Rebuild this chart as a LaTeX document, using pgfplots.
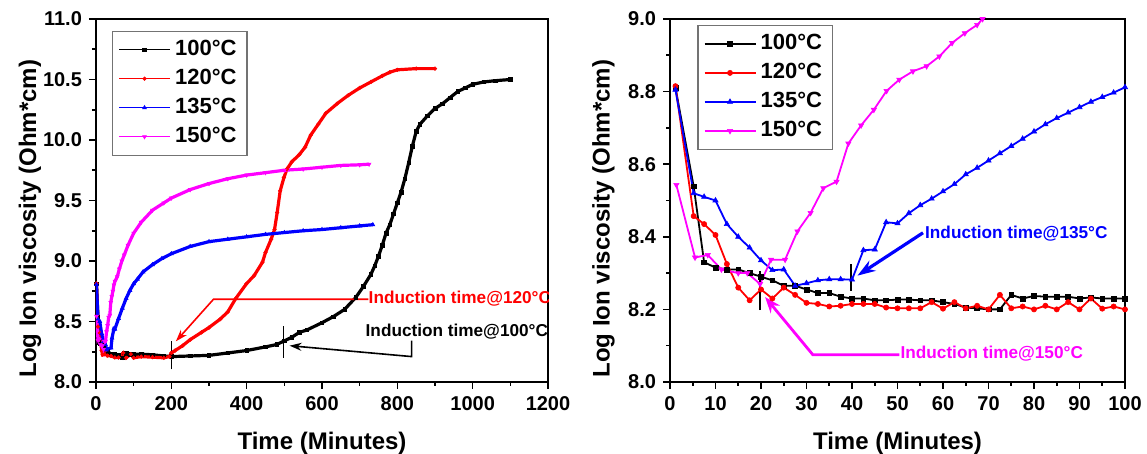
\documentclass[border=0pt]{standalone}
\usepackage{fontspec}
\setmainfont{Liberation Sans}
\usepackage{pgfplots}
\usepackage{pgfplotstable}
\pgfplotsset{compat=1.18}
\usetikzlibrary{arrows.meta}
\definecolor{cmag}{RGB}{255,0,255}
\definecolor{cred}{RGB}{255,0,0}
\definecolor{cblue}{RGB}{0,0,255}

% ---------- left panel (full run) ----------
\pgfplotstableread{
t v
1.2 8.81
5.2 8.54
7.5 8.33
10 8.315
15 8.31
20 8.29
25 8.265
30 8.255
40 8.23
50 8.227
60 8.22
70 8.20
75 8.24
80 8.237
90 8.23
100 8.23
120 8.23
150 8.225
180 8.215
200 8.21
250 8.215
300 8.22
350 8.24
400 8.26
450 8.29
480 8.31
500 8.34
520 8.37
540 8.41
560 8.43
600 8.49
630 8.54
660 8.60
690 8.70
710 8.79
730 8.89
740 8.96
750 9.04
760 9.13
770 9.23
780 9.30
790 9.39
800 9.48
810 9.57
820 9.68
830 9.81
840 9.95
850 10.07
860 10.13
880 10.20
900 10.26
920 10.30
940 10.35
960 10.40
980 10.43
1000 10.46
1030 10.48
1060 10.49
1100 10.50
}\LA
\pgfplotstableread{
t v
1.2 8.815
5.2 8.457
10 8.405
15 8.26
17.5 8.225
22.5 8.23
25 8.26
30 8.218
40 8.215
50 8.203
60 8.202
72.5 8.24
80 8.20
92.5 8.23
100 8.20
120 8.21
150 8.205
180 8.20
195 8.21
200 8.24
210 8.26
230 8.30
250 8.35
280 8.41
300 8.45
330 8.52
350 8.58
371 8.69
399 8.81
420 8.88
442 8.99
450 9.07
465 9.18
474 9.26
481 9.40
489 9.58
499 9.69
507 9.76
520 9.82
540 9.88
555 9.94
570 10.04
590 10.13
610 10.22
640 10.30
670 10.37
700 10.43
730 10.48
760 10.53
780 10.56
800 10.58
850 10.59
900 10.59
}\LB
\pgfplotstableread{
t v
1.2 8.805
5.2 8.52
10 8.50
15 8.40
20 8.335
25 8.31
27.5 8.265
30 8.272
40 8.282
42.5 8.363
47.5 8.44
50 8.437
60 8.525
70 8.61
80 8.69
90 8.757
100 8.812
110 8.85
125 8.91
150 8.97
175 9.02
200 9.06
250 9.12
300 9.16
350 9.18
400 9.20
450 9.22
500 9.235
550 9.25
600 9.26
650 9.275
700 9.29
735 9.30
}\LC
\pgfplotstableread{
t v
1.4 8.543
5.5 8.343
8.3 8.35
11.3 8.31
15 8.30
17 8.30
19.8 8.27
22.2 8.337
25.3 8.337
28 8.415
30.9 8.466
33.7 8.534
36.6 8.552
39.2 8.657
42 8.707
44.8 8.75
47.6 8.802
50.4 8.833
56.4 8.87
62 8.934
68.7 9.00
75 9.05
85 9.13
100 9.23
120 9.32
150 9.42
180 9.48
200 9.52
250 9.59
300 9.64
350 9.68
400 9.71
450 9.73
500 9.75
550 9.76
600 9.775
650 9.79
700 9.795
725 9.80
}\LD

% ---------- right panel (first 100 min) ----------
\pgfplotstableread{
t v
1.2 8.811
5.2 8.539
7.5 8.33
10 8.315
12.5 8.31
15 8.31
17.5 8.30
20 8.29
22.5 8.28
25 8.265
27.5 8.265
30 8.255
32.5 8.245
35 8.245
37.5 8.235
40 8.23
42.5 8.23
45 8.225
47.5 8.225
50 8.227
52.5 8.227
55 8.225
57.5 8.225
60 8.22
62.5 8.215
65 8.205
67.5 8.203
70 8.20
72.5 8.20
75 8.24
77.5 8.23
80 8.237
82.5 8.235
85 8.235
87.5 8.235
90 8.23
92.5 8.233
95 8.23
97.5 8.23
100 8.23
}\RA
\pgfplotstableread{
t v
1.2 8.815
5.2 8.457
7.5 8.435
10 8.405
12.5 8.325
15 8.26
17.5 8.225
20 8.255
22.5 8.23
25 8.26
27.5 8.24
30 8.218
32.5 8.215
35 8.208
37.5 8.21
40 8.215
42.5 8.215
45 8.215
47.5 8.205
50 8.203
52.5 8.203
55 8.203
57.5 8.22
60 8.202
62.5 8.22
65 8.203
67.5 8.21
70 8.20
72.5 8.24
75 8.203
77.5 8.208
80 8.20
82.5 8.21
85 8.20
87.5 8.22
90 8.20
92.5 8.23
95 8.202
97.5 8.208
100 8.20
}\RB
\pgfplotstableread{
t v
1.2 8.805
5.2 8.52
7.5 8.51
10 8.50
12.5 8.435
15 8.40
17.5 8.37
20 8.335
22.5 8.308
25 8.31
27.5 8.265
30 8.272
32.5 8.28
35 8.283
37.5 8.283
40 8.282
42.5 8.363
45 8.365
47.5 8.44
50 8.437
52.5 8.465
55 8.487
57.5 8.505
60 8.525
62.5 8.545
65 8.572
67.5 8.59
70 8.61
72.5 8.63
75 8.65
77.5 8.67
80 8.69
82.5 8.71
85 8.727
87.5 8.742
90 8.757
92.5 8.772
95 8.785
97.5 8.797
100 8.812
}\RC
\pgfplotstableread{
t v
1.4 8.543
5.5 8.343
8.3 8.35
11.3 8.31
15 8.30
17 8.30
19.8 8.27
22.2 8.337
25.3 8.337
28 8.415
30.9 8.466
33.7 8.534
36.6 8.552
39.2 8.657
42 8.707
44.8 8.75
47.6 8.802
50.4 8.833
53.4 8.856
56.4 8.87
59.2 8.897
62 8.934
64.8 8.961
67.5 8.984
68.7 9.00
70.5 9.02
}\RD

\pgfplotsset{
  panel/.style={
    scale only axis, anchor=south west,
    axis line style={line width=1pt},
    tick align=outside, xtick pos=bottom, ytick pos=left,
    major tick length=3.5pt, minor tick length=2pt,
    every tick/.append style={black, line width=0.8pt},
    tick label style={font=\fontsize{10}{12}\selectfont\bfseries},
    /pgf/number format/assume math mode=true,
    /pgf/number format/1000 sep={},
    y tick label style={/pgf/number format/.cd, fixed, fixed zerofill, precision=1},
    label style={font=\fontsize{12}{14}\selectfont\bfseries},
    xlabel={Time (Minutes)},
    ylabel={Log Ion viscosity (Ohm*cm)},
    xlabel style={at={(axis description cs:0.5,-0.168)}, anchor=center},
    ylabel style={at={(axis description cs:-0.146,0.45)}, anchor=center},
    minor x tick num=1, minor y tick num=1,
    legend cell align=left,
    legend style={draw=black!55, line width=0.6pt, fill=white,
      font=\fontsize{11}{13}\selectfont\bfseries,
      nodes={text height=8pt, text depth=2pt, inner sep=2.25pt},
      row sep=0pt},
    legend image code/.code={\draw[mark repeat=2,mark phase=2,##1,line width=0.6pt]
      plot coordinates {(0pt,0pt) (12.75pt,0pt) (25.5pt,0pt)};},
  },
  s100/.style={black, mark=square*, mark options={solid, line width=0.3pt}},
  s120/.style={cred, mark=*, mark options={solid, line width=0.3pt}},
  s135/.style={cblue, mark=triangle*, mark options={solid, line width=0.3pt}},
  s150/.style={cmag, mark=triangle*, mark options={solid, rotate=180, line width=0.3pt}},
}

\begin{document}
\begin{tikzpicture}
\useasboundingbox (0,0) rectangle (573.5pt,227pt);

% ================= LEFT =================
\begin{axis}[panel,
  at={(48pt,36pt)}, width=226pt, height=181.5pt,
  xmin=0, xmax=1200, ymin=8, ymax=11,
  xtick={0,200,...,1200}, ytick={8,8.5,...,11},
  legend style={at={(0.035,0.968)}, anchor=north west},
]
\addplot[s100, line width=1.6pt, mark size=0.9pt] table[x=t,y=v] {\LA};
\addlegendentry{100°C}
\addplot[s120, line width=1.6pt, mark size=0.9pt] table[x=t,y=v] {\LB};
\addlegendentry{120°C}
\addplot[s135, line width=1.6pt, mark size=1.1pt] table[x=t,y=v] {\LC};
\addlegendentry{135°C}
\addplot[s150, line width=1.6pt, mark size=1.1pt] table[x=t,y=v] {\LD};
\addlegendentry{150°C}
% induction markers
\draw[black, line width=0.6pt] (axis cs:200,8.104) -- (axis cs:200,8.342);
\draw[black, line width=0.6pt] (axis cs:497,8.20) -- (axis cs:497,8.46);
\draw[cred, line width=0.8pt, -{Stealth[length=6pt,width=4pt]}]
  (axis cs:723,8.684) -- (axis cs:312,8.684) -- (axis cs:212,8.336);
\node[cred, anchor=west, inner sep=0pt, font=\fontsize{8.6}{10}\selectfont\bfseries]
  at (axis cs:723,8.69) {Induction time@120°C};
\draw[black, line width=0.8pt, -{Stealth[length=6pt,width=4pt]}]
  (axis cs:838,8.342) -- (axis cs:838,8.21) -- (axis cs:514,8.30);
\node[black, anchor=west, inner sep=0pt, font=\fontsize{8.6}{10}\selectfont\bfseries]
  at (axis cs:715,8.418) {Induction time@100°C};
\end{axis}

% ================= RIGHT =================
\begin{axis}[panel,
  at={(335pt,36pt)}, width=227.5pt, height=181.5pt,
  xmin=0, xmax=100, ymin=8, ymax=9,
  xtick={0,10,...,100}, ytick={8,8.2,...,9},
  legend style={at={(0.06,0.984)}, anchor=north west},
]
\addplot[s100, line width=0.9pt, mark size=1.2pt] table[x=t,y=v] {\RA};
\addlegendentry{100°C}
\addplot[s120, line width=0.9pt, mark size=1.3pt] table[x=t,y=v] {\RB};
\addlegendentry{120°C}
\addplot[s135, line width=0.9pt, mark size=1.5pt] table[x=t,y=v] {\RC};
\addlegendentry{135°C}
\addplot[s150, line width=0.9pt, mark size=1.5pt] table[x=t,y=v] {\RD};
\addlegendentry{150°C}
\draw[black, line width=0.6pt] (axis cs:19.8,8.198) -- (axis cs:19.8,8.307);
\draw[black, line width=0.6pt] (axis cs:39.8,8.252) -- (axis cs:39.8,8.325);
\draw[cblue, line width=1.6pt, -{Stealth[length=9pt,width=6pt]}]
  (axis cs:55.6,8.411) -- (axis cs:41.2,8.293);
\node[cblue, anchor=west, inner sep=0pt, font=\fontsize{8.6}{10}\selectfont\bfseries]
  at (axis cs:56,8.41) {Induction time@135°C};
\draw[cmag, line width=1.4pt, -{Stealth[length=8pt,width=6pt]}]
  (axis cs:50.4,8.075) -- (axis cs:31.4,8.075) -- (axis cs:20.9,8.234);
\node[cmag, anchor=west, inner sep=0pt, font=\fontsize{8.6}{10}\selectfont\bfseries]
  at (axis cs:50.6,8.078) {Induction time@150°C};
\end{axis}
\end{tikzpicture}
\end{document}
